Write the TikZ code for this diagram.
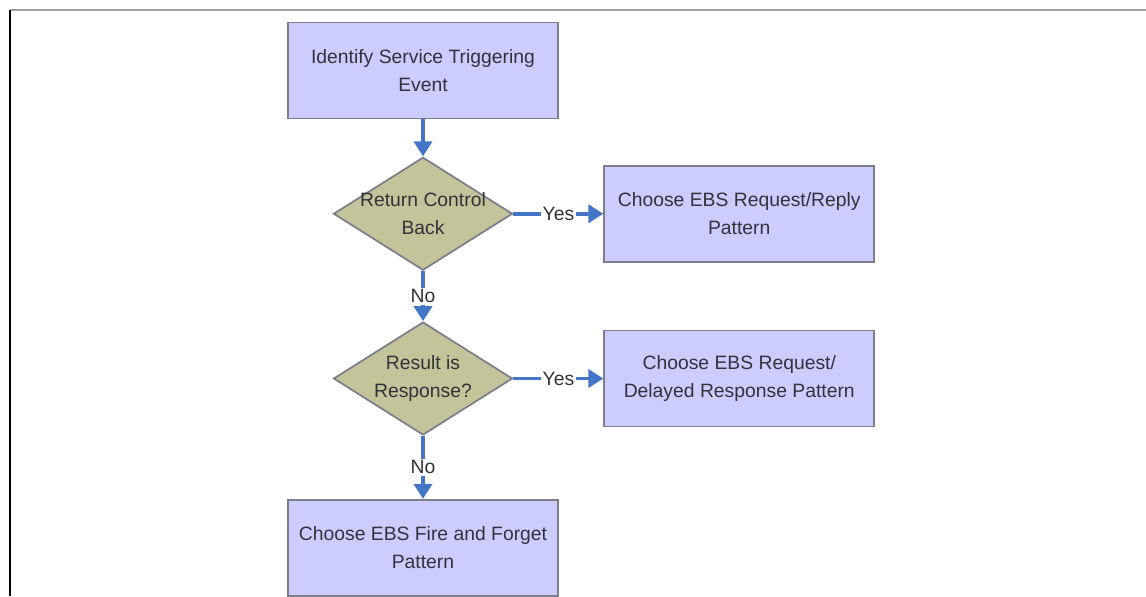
\documentclass[tikz,border=0pt]{standalone}
\usepackage{fontspec}
\setmainfont{Liberation Sans}
\usetikzlibrary{positioning, arrows.meta, shapes.geometric}

\definecolor{boxfill}{RGB}{204,204,255}
\definecolor{boxline}{RGB}{125,125,140}
\definecolor{decfill}{RGB}{196,196,154}
\definecolor{flowblue}{RGB}{68,118,200}
\definecolor{txtgray}{RGB}{50,50,58}

\begin{document}
\begin{tikzpicture}[
  node distance=1.0cm and 1.8cm,
  stepbox/.style={rectangle, fill=boxfill, draw=boxline, line width=1pt,
                  minimum width=5.4cm, minimum height=1.92cm, align=center,
                  text=txtgray, font=\fontsize{11}{16}\selectfont},
  decision/.style={diamond, fill=decfill, draw=boxline, line width=1pt,
                   minimum width=3.58cm, minimum height=2.26cm, inner sep=0pt},
  dtext/.style={align=center, text=txtgray, font=\fontsize{11}{16}\selectfont},
  flow/.style={-{Triangle[length=0.3cm, width=0.36cm]}, line width=2.2pt, draw=flowblue},
  lbl/.style={fill=white, inner sep=1pt, text=txtgray, font=\fontsize{11}{13}\selectfont}
]
\useasboundingbox (0,0) rectangle (22.92,-11.92);

% Frame
\draw[gray!75, line width=1.6pt] (0.2,-0.2) -- (22.92,-0.2);
\draw[black, line width=1.3pt] (0.2,-0.2) -- (0.2,-11.92);

% Nodes
\node[stepbox] (ident) at (8.46,-1.41) {Identify Service Triggering\\Event};
\node[decision, below=0.74cm of ident,
      label={[dtext]center:{Return Control\\Back}}] (retctl) {};
\node[stepbox, right=of retctl] (reqreply) {Choose EBS Request/Reply\\Pattern};
\node[decision, below=of retctl,
      label={[dtext]center:{Result is\\Response?}}] (result) {};
\node[stepbox, right=of result] (delayed) {Choose EBS Request/\\Delayed Response Pattern};
\node[stepbox, below=1.26cm of result] (fireforget) {Choose EBS Fire and Forget\\Pattern};

% Arrows
\draw[flow] (ident) -- (retctl);
\draw[flow] (retctl) -- node[lbl] {Yes} (reqreply);
\draw[flow] (retctl) -- node[lbl] {No} (result);
\draw[flow] (result) -- node[lbl] {Yes} (delayed);
\draw[flow] (result) -- node[lbl] {No} (fireforget);

\end{tikzpicture}
\end{document}
